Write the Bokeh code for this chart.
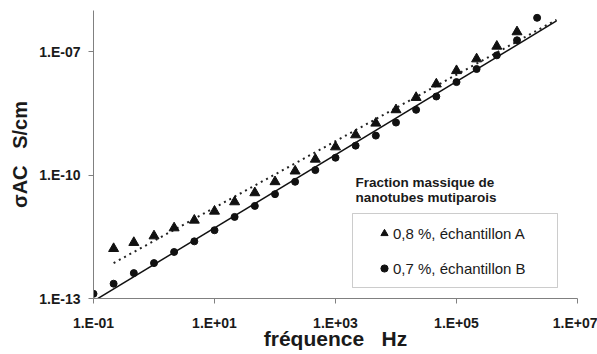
import numpy as np
from bokeh.plotting import figure
from bokeh.models import (FixedTicker, CustomJSTickFormatter, Legend, LegendItem,
                          Label, BoxAnnotation, Range1d)
from bokeh.embed import file_html
from bokeh.resources import INLINE

# ---------------- data ----------------
# échantillon B (0,7 %) : fréquence (Hz) et conductivité (S/cm)
freq_B = [0.1, 0.215, 0.464, 1.0, 2.15, 4.64, 10.0, 21.5, 46.4, 100.0, 215.0, 464.0,
          1.0e3, 2.15e3, 4.64e3, 1.0e4, 2.15e4, 4.64e4, 1.0e5, 2.15e5, 4.64e5, 1.0e6, 2.15e6]
sigma_B = [1.30e-13, 2.29e-13, 4.14e-13, 7.26e-13, 1.35e-12, 2.45e-12, 4.56e-12, 9.62e-12,
           1.78e-11, 3.44e-11, 6.87e-11, 1.32e-10, 2.64e-10, 5.19e-10, 9.10e-10, 1.89e-9,
           3.85e-9, 8.13e-9, 1.82e-8, 3.78e-8, 8.13e-8, 1.89e-7, 6.64e-7]

# échantillon A (0,8 %)
freq_A = [0.215, 0.464, 1.0, 2.15, 4.64, 10.0, 21.5, 46.4, 100.0, 215.0, 464.0,
          1.0e3, 2.15e3, 4.64e3, 1.0e4, 2.15e4, 4.64e4, 1.0e5, 2.15e5, 4.64e5, 1.0e6]
sigma_A = [1.63e-12, 2.29e-12, 3.31e-12, 5.19e-12, 7.98e-12, 1.32e-11, 2.23e-11, 3.70e-11,
           6.87e-11, 1.25e-10, 2.42e-10, 4.82e-10, 9.46e-10, 1.82e-9, 3.85e-9, 7.67e-9,
           1.63e-8, 3.44e-8, 6.64e-8, 1.35e-7, 3.02e-7]

# power-law trendlines extend (forecast) up to this frequency
TREND_END_HZ = 4.5e6

series_labels = ["0,8 %, échantillon A", "0,7 %, échantillon B"]
legend_title = ["Fraction massique de", "nanotubes mutiparois"]

X_RANGE = (1e-1, 1e7)
Y_RANGE = (1e-13, 1e-6)
x_ticks = [1e-1, 1e1, 1e3, 1e5, 1e7]
x_tick_labels = ["1.E-01", "1.E+01", "1.E+03", "1.E+05", "1.E+07"]
y_ticks = [1e-13, 1e-10, 1e-7]
y_tick_labels = ["1.E-13", "1.E-10", "1.E-07"]

x_title = "fréquence\u00a0\u00a0\u00a0Hz"
y_title = "σAC\u00a0\u00a0\u00a0S/cm"

# ---------------- layout ----------------
W, H = 597, 354
BL, BR, BT, BB = 93, 20, 10, 56
FW, FH = W - BL - BR, H - BT - BB
FONT = "Liberation Sans"
INK = "#1a1a1a"
AXIS_COL = "#808080"


def fx(px):
    """frame pixel offset (from left) -> data x on log axis"""
    a, b = np.log10(X_RANGE[0]), np.log10(X_RANGE[1])
    return 10 ** (a + px / FW * (b - a))


def fy(py):
    """frame pixel offset (from bottom) -> data y on log axis"""
    a, b = np.log10(Y_RANGE[0]), np.log10(Y_RANGE[1])
    return 10 ** (a + py / FH * (b - a))


def trend(xs, ys, x_end):
    lx, ly = np.log10(xs), np.log10(ys)
    slope, icpt = np.polyfit(lx, ly, 1)
    tx = np.array([xs[0], x_end])
    return tx, 10 ** (slope * np.log10(tx) + icpt)


p = figure(width=W, height=H, x_axis_type="log", y_axis_type="log",
           x_range=Range1d(*X_RANGE), y_range=Range1d(*Y_RANGE),
           output_backend="svg", toolbar_location=None,
           min_border_left=BL, min_border_right=BR, min_border_top=BT, min_border_bottom=BB)
p.outline_line_color = None
p.xgrid.visible = False
p.ygrid.visible = False
p.background_fill_color = "white"
p.border_fill_color = "white"

fmt_code = """
let best = 0, bd = Infinity;
for (let i = 0; i < tvals.length; i++) {
  const d = Math.abs(Math.log10(tvals[i]) - Math.log10(tick));
  if (d < bd) { bd = d; best = i; }
}
return tlabels[best];
"""
p.xaxis.ticker = FixedTicker(ticks=x_ticks, minor_ticks=[])
p.yaxis.ticker = FixedTicker(ticks=y_ticks, minor_ticks=[])
p.xaxis.formatter = CustomJSTickFormatter(args=dict(tvals=x_ticks, tlabels=x_tick_labels), code=fmt_code)
p.yaxis.formatter = CustomJSTickFormatter(args=dict(tvals=y_ticks, tlabels=y_tick_labels), code=fmt_code)

for ax in (p.xaxis, p.yaxis):
    ax.axis_line_color = AXIS_COL
    ax.major_tick_line_color = AXIS_COL
    ax.major_tick_in = 0
    ax.major_tick_out = 5
    ax.minor_tick_line_color = None
    ax.major_label_text_font = FONT
    ax.major_label_text_font_style = "bold"
    ax.major_label_text_font_size = "14px"
    ax.major_label_text_color = INK
    ax.axis_label_text_font = FONT
    ax.axis_label_text_font_style = "bold"
    ax.axis_label_text_color = INK
p.xaxis.major_label_standoff = 11
p.yaxis.major_label_standoff = 8
p.xaxis.axis_label = x_title
p.xaxis.axis_label_text_font_size = "21px"
p.xaxis.axis_label_standoff = -7
p.yaxis.axis_label = y_title
p.yaxis.axis_label_text_font_size = "20px"
p.yaxis.axis_label_standoff = 5

# trendlines
txA, tyA = trend(freq_A, sigma_A, TREND_END_HZ)
txB, tyB = trend(freq_B, sigma_B, TREND_END_HZ)
p.line(txA, tyA, line_color="#222222", line_width=2, line_dash="2 4")
p.line(txB, tyB, line_color="#111111", line_width=1.5)

rA = p.scatter(freq_A, sigma_A, marker="triangle", size=10, fill_color="#111111", line_color="#111111")
rB = p.scatter(freq_B, sigma_B, marker="circle", size=7, fill_color="#111111", line_color="#111111")

legend = Legend(items=[LegendItem(label=series_labels[0], renderers=[rA]),
                       LegendItem(label=series_labels[1], renderers=[rB])],
                location=(282, 21), orientation="vertical",
                glyph_width=18, glyph_height=18, label_height=18, label_width=20,
                label_standoff=-5, spacing=17, padding=0, margin=0,
                label_text_font=FONT, label_text_font_size="15px", label_text_color=INK,
                background_fill_alpha=0, border_line_alpha=0)
p.add_layout(legend, "center")

p.add_layout(BoxAnnotation(left=fx(259), right=fx(464), bottom=fy(11), top=fy(85),
                           fill_alpha=0, line_color="#555555", line_width=1))

for i, t in enumerate(legend_title):
    p.add_layout(Label(x=fx(262), y=fy(116 - 15 * i), text=t, text_font=FONT,
                       text_font_size="13.5px", text_font_style="bold", text_color=INK,
                       text_align="left", text_baseline="middle"))

open("out.html", "w").write(file_html(p, INLINE))
